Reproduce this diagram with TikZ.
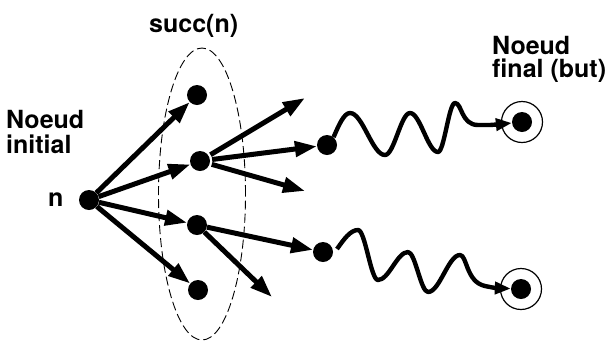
\documentclass[tikz,border=0pt]{standalone}
\usepackage{fontspec}
\setmainfont{TeX Gyre Heros}
\usetikzlibrary{arrows.meta,calc}
\begin{document}
\begin{tikzpicture}[x=1bp,y=-1bp,
  dot/.style={circle,fill=black,inner sep=0pt,minimum size=20bp},
  ring/.style={circle,draw=black,line width=1.2bp,inner sep=0pt,minimum size=41bp},
  edge/.style={line width=5bp,-{Triangle[length=22bp,width=15bp]}},
  wave/.style={line width=4.4bp,line join=round,-{Triangle[length=16bp,width=12bp]}},
  lbl/.style={font=\bfseries\fontsize{25bp}{26bp}\selectfont,inner sep=0pt,anchor=base west},
  setline/.style={line width=0.9bp,dash pattern=on 9bp off 4bp}]
\useasboundingbox (0,0) rectangle (613,340);

% the successor set
\draw[setline] (202,194) ellipse [x radius=43.5bp, y radius=146bp];

% states
\node[dot] (n)  at (89,200) {};
\node[dot] (s1) at (197,95) {};
\node[dot] (s2) at (200,161) {};
\node[dot] (s3) at (197,225) {};
\node[dot] (s4) at (198,290) {};
\node[dot] (A)  at (327,145) {};
\node[dot] (B)  at (323,252) {};
\node[dot] (g1) at (522,122) {};
\node[dot] (g2) at (521,289) {};
\node[ring] (g1ring) at (g1) {};
\node[ring] (g2ring) at (g2) {};

% loose arrow ends
\coordinate (e1) at (305,98);
\coordinate (e2) at (305,191);
\coordinate (e3) at (272,297);

% labels
\node[lbl] (succlbl) at (149,32) {succ(n)};
\node[lbl] (ini1) at (6,128) {Noeud};
\node[lbl] (ini2) at (6,153) {initial};
\node[lbl] (nlbl) at (48,206) {n};
\node[lbl] (fin1) at (492,54) {Noeud};
\node[lbl] (fin2) at (492,77) {final (but)};

% expansion of n
\draw[edge] (n) -- (s1);
\draw[edge] (n) -- (s2);
\draw[edge] (n) -- (s3);
\draw[edge] (n) -- (s4);

% expansion of the successors
\draw[edge,shorten <=2bp] (s2) -- (e1);
\draw[edge,shorten <=2bp] (s2) -- (A);
\draw[edge,shorten <=2bp] (s2) -- (e2);
\draw[edge] (s3) -- (B);
\draw[edge] (s3) -- (e3);

% long paths to the goals
\draw[wave] (A.50) sin (350,113) cos (367.5,134) sin (385,155)
  cos (397.5,134) sin (410,113) cos (424,132.5) sin (438,152)
  cos (446.5,127.5) sin (455,103)
  .. controls (462,103) and (461,125) .. (478,125)
  .. controls (492,125) .. (g1);
\draw[wave] ($(B)+(14,-3)$) sin (358,230) cos (368,255) sin (378,280)
  cos (393,266) sin (408,252) cos (418,272) sin (428,292)
  cos (444,273.5) sin (460,255)
  .. controls (467,255) and (466,282) .. (485,286)
  .. controls (495,288) .. (g2);
\end{tikzpicture}
\end{document}
